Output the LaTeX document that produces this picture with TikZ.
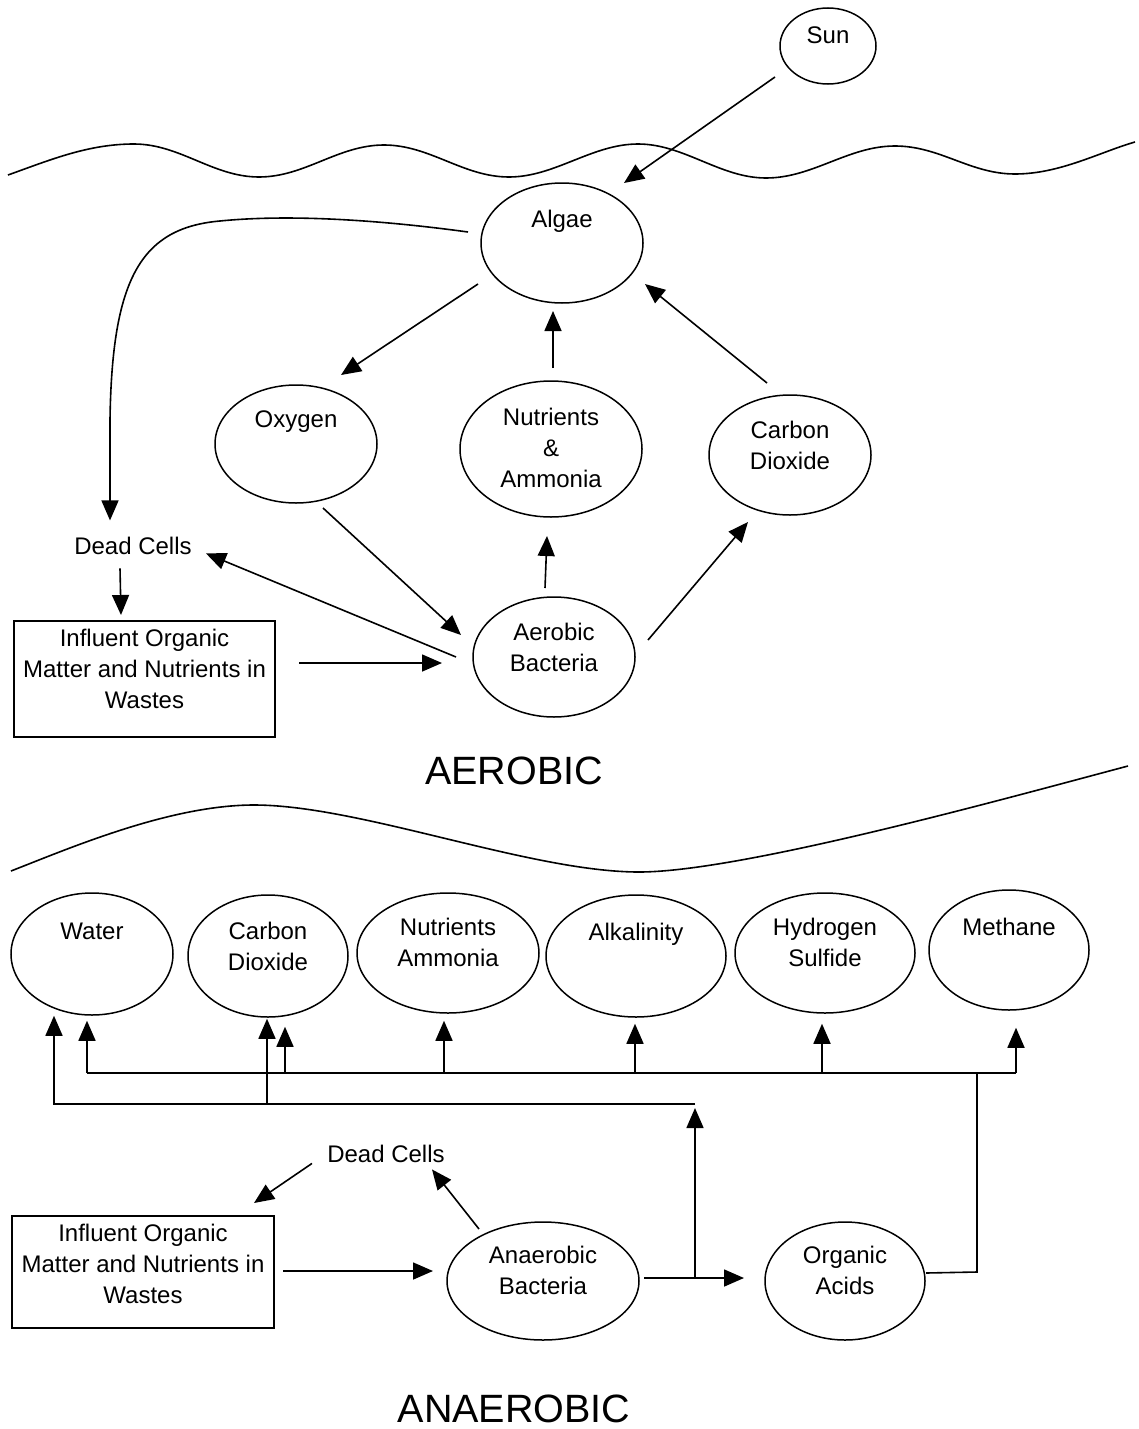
\documentclass[tikz,border=0pt]{standalone}
\usepackage{fontspec}
\setmainfont{Liberation Sans}
\usetikzlibrary{arrows.meta,calc,shapes.geometric}
\begin{document}
\begin{tikzpicture}[x=1pt,y=-1pt,
  ln/.style={line width=1.6pt},
  oval/.style={draw, ellipse, line width=1.5pt, inner sep=0pt},
  boxed/.style={draw, rectangle, line width=1.5pt, inner sep=0pt},
  txt/.style={font=\fontsize{24}{31}\selectfont, align=center, inner sep=0pt},
  one/.style={txt, anchor=base},
  big/.style={font=\fontsize{39.5}{45}\selectfont, inner sep=0pt, anchor=base},
  arr/.style={ln, -{Triangle[length=20pt,width=17pt]}}]
\useasboundingbox (0,0) rectangle (1138,1429);

% ---------- water surfaces ----------
\draw[ln] (8,175) .. controls (50,160) and (88,144) .. (134,144)
  .. controls (180,144) and (213,177) .. (259,177)
  .. controls (305,177) and (338,145) .. (384,145)
  .. controls (430,145) and (463,177) .. (509,177)
  .. controls (555,177) and (592,144) .. (638,144)
  .. controls (684,144) and (720,178) .. (766,178)
  .. controls (813,178) and (848,146) .. (895,146)
  .. controls (940,146) and (970,174) .. (1015,174)
  .. controls (1060,174) and (1100,152) .. (1135,142);
\draw[ln] (11,871) .. controls (70,848) and (170,805) .. (254,805)
  .. controls (360,805) and (530,872) .. (639,872)
  .. controls (740,872) and (1000,800) .. (1128,766);

% ---------- AEROBIC ----------
\node[oval, minimum width=96pt, minimum height=76pt] (sun) at (828,46) {};
\node[one] (sunT) at (828,44) {Sun};
\node[oval, minimum width=162pt, minimum height=120pt] (algae) at (562,243) {};
\node[one] (algaeT) at (562,227) {Algae};
\node[oval, minimum width=162pt, minimum height=118pt] (oxygen) at (296,444) {};
\node[one] (oxygenT) at (296,427) {Oxygen};
\node[oval, minimum width=182pt, minimum height=136pt] (nut) at (551,449) {};
\node[txt] (nutT) at (551,448) {Nutrients\\\&\\Ammonia};
\node[oval, minimum width=162pt, minimum height=120pt] (co2a) at (790,455) {};
\node[txt] (co2aT) at (790,445) {Carbon\\Dioxide};
\node[oval, minimum width=162pt, minimum height=120pt] (aerobic) at (554,657) {};
\node[txt] (aerobicT) at (554,647) {Aerobic\\Bacteria};
\node[one] (deadA) at (133,554) {Dead Cells};
\node[boxed, minimum width=261pt, minimum height=116pt] (boxA) at (144.5,679) {};
\node[txt] (boxAT) at (144.5,669) {Influent Organic\\Matter and Nutrients in\\Wastes};
\node[big] (aerobicL) at (514,784) {AEROBIC};

\draw[arr] ($(sun)+(-53,31)$) -- ($(algae)+(62,-60)$);
\draw[arr] ($(algae)+(-84,41)$) -- ($(oxygen)+(45,-69)$);
\draw[arr] ($(nut)+(2,-81)$) -- ($(algae)+(-9,68)$);
\draw[arr] ($(co2a)+(-23,-72)$) -- ($(algae)+(83,41)$);
\draw[arr] ($(algae)+(-94,-11)$) .. controls (380,220) and (290,214) .. (220,221)
  .. controls (140,228) and (112,280) .. (110,420) -- ($(deadA)+(-23,-25)$);
\draw[arr] ($(deadA)+(-13,23)$) -- ($(boxA)+(-23.5,-64)$);
\draw[arr] ($(oxygen)+(27,64)$) -- ($(aerobic)+(-93,-22)$);
\draw[arr] ($(aerobic)+(-98,0)$) -- ($(deadA)+(73,8)$);
\draw[arr] ($(boxA)+(154.5,-16)$) -- ($(aerobic)+(-112,6)$);
\draw[arr] ($(aerobic)+(-9,-69)$) -- ($(nut)+(-4,87)$);
\draw[arr] ($(aerobic)+(94,-17)$) -- ($(co2a)+(-42,67)$);

% ---------- ANAEROBIC ----------
\node[oval, minimum width=162pt, minimum height=122pt] (water) at (92,954) {};
\node[one] (waterT) at (92,939) {Water};
\node[oval, minimum width=160pt, minimum height=122pt] (cob) at (268,956) {};
\node[txt] (cobT) at (268,946) {Carbon\\Dioxide};
\node[oval, minimum width=182pt, minimum height=120pt] (nutB) at (448,953) {};
\node[txt] (nutBT) at (448,942.5) {Nutrients\\Ammonia};
\node[oval, minimum width=180pt, minimum height=122pt] (alk) at (636,956) {};
\node[one] (alkT) at (636,940) {Alkalinity};
\node[oval, minimum width=180pt, minimum height=120pt] (h2s) at (825,953) {};
\node[txt] (h2sT) at (825,942.5) {Hydrogen\\Sulfide};
\node[oval, minimum width=160pt, minimum height=120pt] (meth) at (1009,950) {};
\node[one] (methT) at (1009,935) {Methane};
\node[one] (deadB) at (386,1162) {Dead Cells};
\node[boxed, minimum width=262pt, minimum height=112pt] (boxB) at (143,1272) {};
\node[txt] (boxBT) at (143,1264) {Influent Organic\\Matter and Nutrients in\\Wastes};
\node[oval, minimum width=192pt, minimum height=118pt] (anaer) at (543,1281) {};
\node[txt] (anaerT) at (543,1270.5) {Anaerobic\\Bacteria};
\node[oval, minimum width=160pt, minimum height=118pt] (organic) at (845,1281) {};
\node[txt] (organicT) at (845,1270.5) {Organic\\Acids};
\node[big] (anaerobicL) at (514,1422) {ANAEROBIC};

\coordinate (j) at (695,1278);
\coordinate (oR) at (695,1104);
\coordinate (oL) at (54,1104);
\coordinate (oC) at (267,1104);
\coordinate (bW) at (87,1073);
\coordinate (bC) at (285,1073);
\coordinate (bN) at (444,1073);
\coordinate (bA) at (635,1073);
\coordinate (bH) at (822,1073);
\coordinate (bM) at (1016,1073);
\coordinate (bO) at (977,1073);
\coordinate (oc) at (977,1272);

\draw[arr] ($(boxB)+(140,-1)$) -- ($(anaer)+(-110,-10)$);
\draw[arr] ($(anaer)+(-64,-52)$) -- ($(deadB)+(46,16)$);
\draw[arr] ($(deadB)+(-74,10)$) -- ($(boxB)+(111,-69)$);
\draw[arr] ($(anaer)+(101,-3)$) -- ($(organic)+(-101,-3)$);
\draw[arr, shorten >=4pt] (j) -- (oR);
\draw[arr] (oR) -- (oL) -- (oL |- water.south);
\draw[arr, shorten >=1pt] (oC) -- (oC |- cob.south);
\draw[ln] (bW) -- (bM);
\draw[arr, shorten >=5pt] (bW) -- (bW |- water.south);
\draw[arr, shorten >=9pt] (bC) -- (bC |- cob.south);
\draw[arr, shorten >=7pt] (bN) -- (bN |- nutB.south);
\draw[arr, shorten >=6pt] (bA) -- (bA |- alk.south);
\draw[arr, shorten >=10pt] (bH) -- (bH |- h2s.south);
\draw[arr, shorten >=17pt] (bM) -- (bM |- meth.south);
\draw[ln] ($(organic)+(81,-8)$) -- (oc) -- (bO);
\end{tikzpicture}
\end{document}
